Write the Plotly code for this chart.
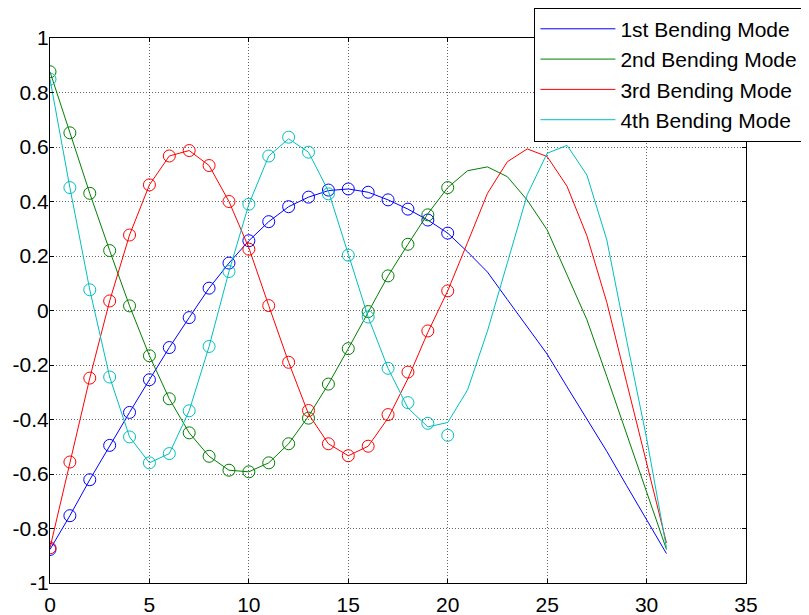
import plotly.graph_objects as go

# ---------------- data ----------------
x_line = list(range(0, 32))
x_meas = list(range(0, 21))

mode_names = ["1st Bending Mode", "2nd Bending Mode", "3rd Bending Mode", "4th Bending Mode"]

mode1_meas = [-0.877, -0.753, -0.621, -0.495, -0.374, -0.254, -0.136, -0.026, 0.082, 0.174,
              0.256, 0.326, 0.381, 0.416, 0.442, 0.446, 0.434, 0.406, 0.372, 0.332, 0.284]
mode1_line = [-0.877, -0.753, -0.621, -0.495, -0.374, -0.254, -0.136, -0.026, 0.082, 0.174,
              0.256, 0.326, 0.381, 0.416, 0.440, 0.446, 0.434, 0.406, 0.372, 0.332, 0.284,
              0.215, 0.141, 0.040, -0.060, -0.160, -0.280, -0.398, -0.517, -0.643, -0.767, -0.892]

mode2_meas = [0.876, 0.652, 0.430, 0.220, 0.017, -0.166, -0.324, -0.449, -0.535, -0.586,
              -0.592, -0.559, -0.489, -0.395, -0.270, -0.140, -0.004, 0.127, 0.243, 0.351, 0.451]
mode2_line = [0.876, 0.652, 0.430, 0.220, 0.017, -0.166, -0.324, -0.449, -0.535, -0.586,
              -0.592, -0.559, -0.489, -0.388, -0.270, -0.140, -0.004, 0.127, 0.243, 0.355, 0.451,
              0.513, 0.527, 0.491, 0.405, 0.296, 0.131, -0.034, -0.242, -0.451, -0.666, -0.877]

mode3_meas = [-0.871, -0.556, -0.248, 0.035, 0.277, 0.461, 0.567, 0.587, 0.532, 0.400,
              0.225, 0.018, -0.190, -0.367, -0.489, -0.533, -0.498, -0.382, -0.226, -0.075, 0.072]
mode3_line = [-0.871, -0.556, -0.248, 0.035, 0.277, 0.461, 0.567, 0.587, 0.532, 0.400,
              0.230, 0.018, -0.190, -0.380, -0.489, -0.533, -0.498, -0.395, -0.250, -0.080, 0.072,
              0.250, 0.430, 0.546, 0.593, 0.565, 0.456, 0.274, 0.030, -0.265, -0.559, -0.853]

mode4_meas = [0.849, 0.451, 0.076, -0.244, -0.464, -0.559, -0.525, -0.368, -0.132, 0.143,
              0.390, 0.567, 0.636, 0.581, 0.428, 0.203, -0.024, -0.212, -0.338, -0.414, -0.458]
mode4_line = [0.849, 0.451, 0.076, -0.244, -0.464, -0.559, -0.525, -0.368, -0.132, 0.143,
              0.390, 0.567, 0.630, 0.581, 0.438, 0.203, -0.024, -0.212, -0.358, -0.427, -0.411,
              -0.291, -0.075, 0.175, 0.425, 0.577, 0.606, 0.497, 0.259, -0.110, -0.468, -0.871]

x_tickvals = [0, 5, 10, 15, 20, 25, 30, 35]
x_ticktext = ["0", "5", "10", "15", "20", "25", "30", "35"]
y_tickvals = [-1, -0.8, -0.6, -0.4, -0.2, 0, 0.2, 0.4, 0.6, 0.8, 1]
y_ticktext = ["-1", "-0.8", "-0.6", "-0.4", "-0.2", "0", "0.2", "0.4", "0.6", "0.8", "1"]

colors = ["#0000ff", "#008000", "#ff0000", "#00bfbf"]

# ---------------- figure ----------------
FONT = "Liberation Sans, Arial, sans-serif"
fig = go.Figure()

lines = [mode1_line, mode2_line, mode3_line, mode4_line]
meas = [mode1_meas, mode2_meas, mode3_meas, mode4_meas]

for name, yl, ym, c in zip(mode_names, lines, meas, colors):
    fig.add_trace(go.Scatter(x=x_line, y=yl, mode="lines", name=name,
                             line=dict(color=c, width=1), legendgroup=name))
    fig.add_trace(go.Scatter(x=x_meas, y=ym, mode="markers", name=name,
                             marker=dict(symbol="circle-open", size=12, color=c,
                                         line=dict(width=1, color=c)),
                             showlegend=False, legendgroup=name))

axis_common = dict(
    showline=True, linecolor="black", linewidth=1.3, mirror="ticks",
    ticks="inside", ticklen=4, tickcolor="black", tickwidth=1,
    showgrid=True, gridcolor="rgba(0,0,0,0.6)", griddash="1px,2px", gridwidth=1,
    zeroline=False,
    tickfont=dict(family=FONT, size=21, color="black"),
)

fig.update_xaxes(range=[0, 35], tickmode="array", tickvals=x_tickvals,
                 ticktext=x_ticktext, ticklabelstandoff=3, **axis_common)
fig.update_yaxes(range=[-1, 1], tickmode="array", tickvals=y_tickvals,
                 ticktext=y_ticktext, ticklabelstandoff=-4, **axis_common)

# page body has an 8px default margin, so the figure is offset by (8, 8)
fig.update_layout(
    width=801, height=607,
    margin=dict(l=42, r=63, t=30, b=32, autoexpand=False),
    paper_bgcolor="white", plot_bgcolor="white",
    font=dict(family=FONT, size=21, color="black"),
    legend=dict(x=0.696, y=1.0557, xanchor="left", yanchor="top",
                bgcolor="white", bordercolor="black", borderwidth=1,
                font=dict(family=FONT, size=21, color="black"),
                itemwidth=75, tracegroupgap=0),
    showlegend=True,
)

fig.write_html("out.html")
